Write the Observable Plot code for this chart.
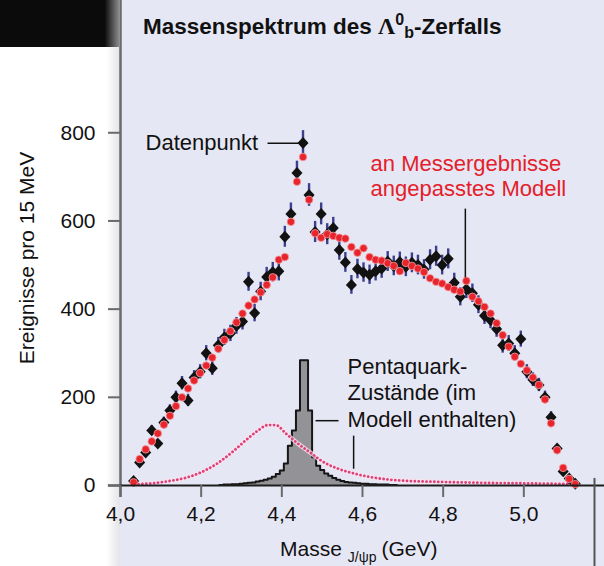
<!DOCTYPE html>
<html>
<head>
<meta charset="utf-8">
<script src="https://cdn.jsdelivr.net/npm/d3@7"></script>
<script src="https://cdn.jsdelivr.net/npm/@observablehq/plot@0.6"></script>
<style>
  html, body { margin: 0; padding: 0; background: #fff; }
  #chart svg { display: block; }
</style>
</head>
<body>
<div id="chart"></div>
<script>
// ---- data ----
const mass = [4.0325,4.0475,4.0625,4.0775,4.0925,4.1075,4.1225,4.1375,4.1525,4.1675,
  4.1825,4.1975,4.2125,4.2275,4.2425,4.2575,4.2725,4.2875,4.3025,4.3175,
  4.3325,4.3475,4.3625,4.3775,4.3925,4.4075,4.4225,4.4375,4.4525,4.4675,
  4.4825,4.4975,4.5125,4.5275,4.5425,4.5575,4.5725,4.5875,4.6025,4.6175,
  4.6325,4.6475,4.6625,4.6775,4.6925,4.7075,4.7225,4.7375,4.7525,4.7675,
  4.7825,4.7975,4.8125,4.8275,4.8425,4.8575,4.8725,4.8875,4.9025,4.9175,
  4.9325,4.9475,4.9625,4.9775,4.9925,5.0075,5.0225,5.0375,5.0525,5.0675,
  5.0825,5.0975,5.1125,5.1275];
const counts = [10,52,75,125,95,143,170,200,232,193,
  245,258,300,266,318,336,345,362,372,462,
  391,440,473,484,486,564,616,709,777,659,
  575,616,570,584,534,506,455,491,483,478,
  486,492,508,498,507,496,505,500,490,512,
  520,500,514,460,428,445,436,410,385,375,
  355,318,322,300,332,258,240,228,200,155,
  84,32,16,4];
const model = [7,60,82,100,118,138,158,180,200,220,
  238,255,272,290,310,330,350,370,390,408,
  422,438,455,472,512,518,598,689,745,648,
  572,562,570,566,562,560,541,528,538,518,
  512,510,504,498,486,505,498,492,484,470,
  462,458,450,444,440,464,428,418,405,390,
  368,341,315,292,276,261,245,228,195,141,
  80,40,15,3];
// broad pentaquark component (dotted)
const broadMass = [4.035,4.08,4.12,4.16,4.20,4.24,4.28,4.31,4.34,4.365,4.385,4.41,4.44,4.47,4.50,4.54,4.58,4.62,4.66,4.70,4.80,4.90,5.00,5.13];
const broadValue = [3,5,10,17,30,50,78,102,124,137,137,118,95,75,55,38,27,19,14,11,8,6,5,3];
// narrow pentaquark component (histogram)
const narrowEdges = [4.245,4.255,4.265,4.275,4.285,4.295,4.305,4.315,4.325,4.335,
  4.345,4.355,4.365,4.375,4.385,4.395,4.405,4.415,4.425,4.435,
  4.445,4.455,4.465,4.475,4.485,4.495,4.505,4.515,4.525,4.535,
  4.545,4.555,4.565,4.575,4.585,4.595,4.605,4.615,4.625,4.635,
  4.645,4.655,4.665,4.675,4.685];
const narrowValue = [1,2,2,3,3,4,5,6,7,9,
  11,13,16,20,26,34,50,90,125,170,
  284,284,170,64,45,35,27,22,17,13,
  10,8,7,6,5,4,4,3,3,2,
  2,2,1,1];
const yTicks = [0,200,400,600,800];
const xTicks = [4.0,4.2,4.4,4.6,4.8,5.0];

// ---- tables ----
const dataPts = mass.map((m,i) => ({m, n: counts[i]}));
const modelPts = mass.map((m,i) => ({m, v: model[i]}));
const broadPts = broadMass.map((m,i) => ({m, v: broadValue[i]}));
const narrowPts = narrowEdges.map((e,i) => ({m: e, v: narrowValue[Math.min(i, narrowValue.length-1)]}));

const FONT = "'Liberation Sans', Arial, Helvetica, sans-serif";
const FS = 21;
const FA = 22;
const diamond = {draw(ctx, size) {
  const r = Math.sqrt(size) * 0.6;
  ctx.moveTo(0, -r*1.08); ctx.lineTo(r, 0); ctx.lineTo(0, r*1.08); ctx.lineTo(-r, 0); ctx.closePath();
}};
const fmt = d => d.toFixed(1).replace(".", ",");

const chart = Plot.plot({
  width: 604, height: 566,
  marginLeft: 120, marginRight: 0, marginTop: 0, marginBottom: 81,
  x: {domain: [4.0, 5.2]},
  y: {domain: [0, 1100]},
  style: {fontFamily: FONT, fontSize: FS + "px", background: "transparent", color: "#111", overflow: "visible"},
  marks: [
    Plot.areaY(narrowPts, {x: "m", y: "v", curve: "step-after", fill: "#939397"}),
    Plot.lineY(narrowPts, {x: "m", y: "v", curve: "step-after", stroke: "#161616", strokeWidth: 2}),
    Plot.lineY(broadPts, {x: "m", y: "v", curve: "monotone-x", stroke: "#fbe3ec", strokeWidth: 4.5, strokeOpacity: 0.8}),
    Plot.lineY(broadPts, {x: "m", y: "v", curve: "monotone-x", stroke: "#dc3f7a", strokeWidth: 2.8, strokeDasharray: "0.01 3.9", strokeLinecap: "round"}),
    Plot.ruleX(dataPts, {x: "m", y1: d => d.n - Math.sqrt(d.n), y2: d => d.n + Math.sqrt(d.n), stroke: "#3b3f8e", strokeWidth: 2.4}),
    Plot.dot(dataPts, {x: "m", y: "n", symbol: diamond, r: 5.2, fill: "#121212", stroke: "none"}),
    Plot.dot(modelPts, {x: "m", y: "v", r: 3.8, fill: "#e8242c", stroke: "#f3a0a4", strokeWidth: 0.8}),
    // axes
    Plot.ruleX([4.0], {y1: -27, y2: 1100, stroke: "#6a6a6e", strokeWidth: 2.5}),
    Plot.ruleY([0], {x1: 3.97, x2: 5.2, stroke: "#1e1e1e", strokeWidth: 2}),
    Plot.ruleX([5.1752], {y1: 16, y2: -190, stroke: "#555", strokeWidth: 2}),
    Plot.axisY({ticks: yTicks, tickSize: 12, tickPadding: 13, fontSize: FS, stroke: "#6a6a6e", strokeWidth: 2, fill: "#111", label: null}),
    Plot.axisX({ticks: xTicks, tickSize: 12, tickPadding: 9, tickFormat: fmt, fontSize: FS, stroke: "#6a6a6e", strokeWidth: 2, fill: "#111", label: null}),
    // annotations
    Plot.link([0], {x1: 4.3645, y1: 776, x2: 4.45, y2: 776, stroke: "#111", strokeWidth: 1.5}),
    Plot.text(["Datenpunkt"], {x: 4.062, y: 778, text: d => d, textAnchor: "start", lineAnchor: "middle", fontSize: FA, fill: "#111"}),
    Plot.link([0], {x1: 4.855, y1: 628, x2: 4.855, y2: 472, stroke: "#111", strokeWidth: 1.5}),
    Plot.text(["an Messergebnisse\nangepasstes Modell"], {x: 4.62, y: 704, text: d => d, textAnchor: "start", lineAnchor: "middle", lineHeight: 1.14, fontSize: FA, fill: "#e4202a"}),
    Plot.link([0], {x1: 4.4835, y1: 147, x2: 4.5405, y2: 147, stroke: "#111", strokeWidth: 1.5}),
    Plot.link([0], {x1: 4.578, y1: 113, x2: 4.578, y2: 38, stroke: "#111", strokeWidth: 1.5}),
    Plot.text(["Pentaquark-\nZustände (im\nModell enthalten)"], {x: 4.563, y: 212, text: d => d, textAnchor: "start", lineAnchor: "middle", lineHeight: 1.2, fontSize: FA, fill: "#111"})
  ]
});

// ---- decoration: panel, title, axis labels ----
const s = d3.select(chart);
const defs = s.insert("defs", ":first-child");
const g1 = defs.append("linearGradient").attr("id", "barfade").attr("x1", 0).attr("x2", 1).attr("y1", 0).attr("y2", 0);
g1.append("stop").attr("offset", "0%").attr("stop-color", "#0b0b0b");
g1.append("stop").attr("offset", "88%").attr("stop-color", "#0b0b0b");
g1.append("stop").attr("offset", "100%").attr("stop-color", "#8a8a8a");
const g2 = defs.append("linearGradient").attr("id", "shade").attr("x1", 0).attr("x2", 1).attr("y1", 0).attr("y2", 0);
g2.append("stop").attr("offset", "0%").attr("stop-color", "#ffffff");
g2.append("stop").attr("offset", "100%").attr("stop-color", "#e2e2e7");
const bg = s.insert("g", "defs + *");
bg.append("rect").attr("x", 0).attr("y", 0).attr("width", 604).attr("height", 566).attr("fill", "#ffffff");
bg.append("rect").attr("x", 106).attr("y", 47).attr("width", 15).attr("height", 519).attr("fill", "url(#shade)");
bg.append("rect").attr("x", 120).attr("y", 0).attr("width", 484).attr("height", 566).attr("fill", "#e6e7f4");
bg.append("rect").attr("x", 0).attr("y", 0).attr("width", 119).attr("height", 47).attr("fill", "url(#barfade)");

const t = s.append("text").attr("x", 143).attr("y", 34).attr("text-anchor", "start")
  .attr("font-weight", "bold").attr("font-size", 22.5).attr("fill", "#111");
t.append("tspan").text("Massenspektrum des ");
t.append("tspan").attr("font-family", "'Liberation Serif', 'DejaVu Serif', serif").attr("font-size", 24).text("Λ");
t.append("tspan").attr("font-size", 16).attr("dy", -9).text("0");
t.append("tspan").attr("font-size", 16).attr("dy", 13).text("b");
t.append("tspan").attr("dy", -4).text("-Zerfalls");

s.append("text").attr("transform", "translate(34,258) rotate(-90)").attr("text-anchor", "middle")
  .attr("font-size", FS).attr("fill", "#111").text("Ereignisse pro 15 MeV");

const xl = s.append("text").attr("x", 280).attr("y", 556).attr("text-anchor", "start").attr("font-size", FS).attr("fill", "#111");
xl.append("tspan").text("Masse");
xl.append("tspan").attr("font-size", 14).attr("dx", 6).attr("dy", 6).text("J/ψp");
xl.append("tspan").attr("dx", 5).attr("dy", -6).text("(GeV)");

document.getElementById("chart").appendChild(chart);
</script>
</body>
</html>
